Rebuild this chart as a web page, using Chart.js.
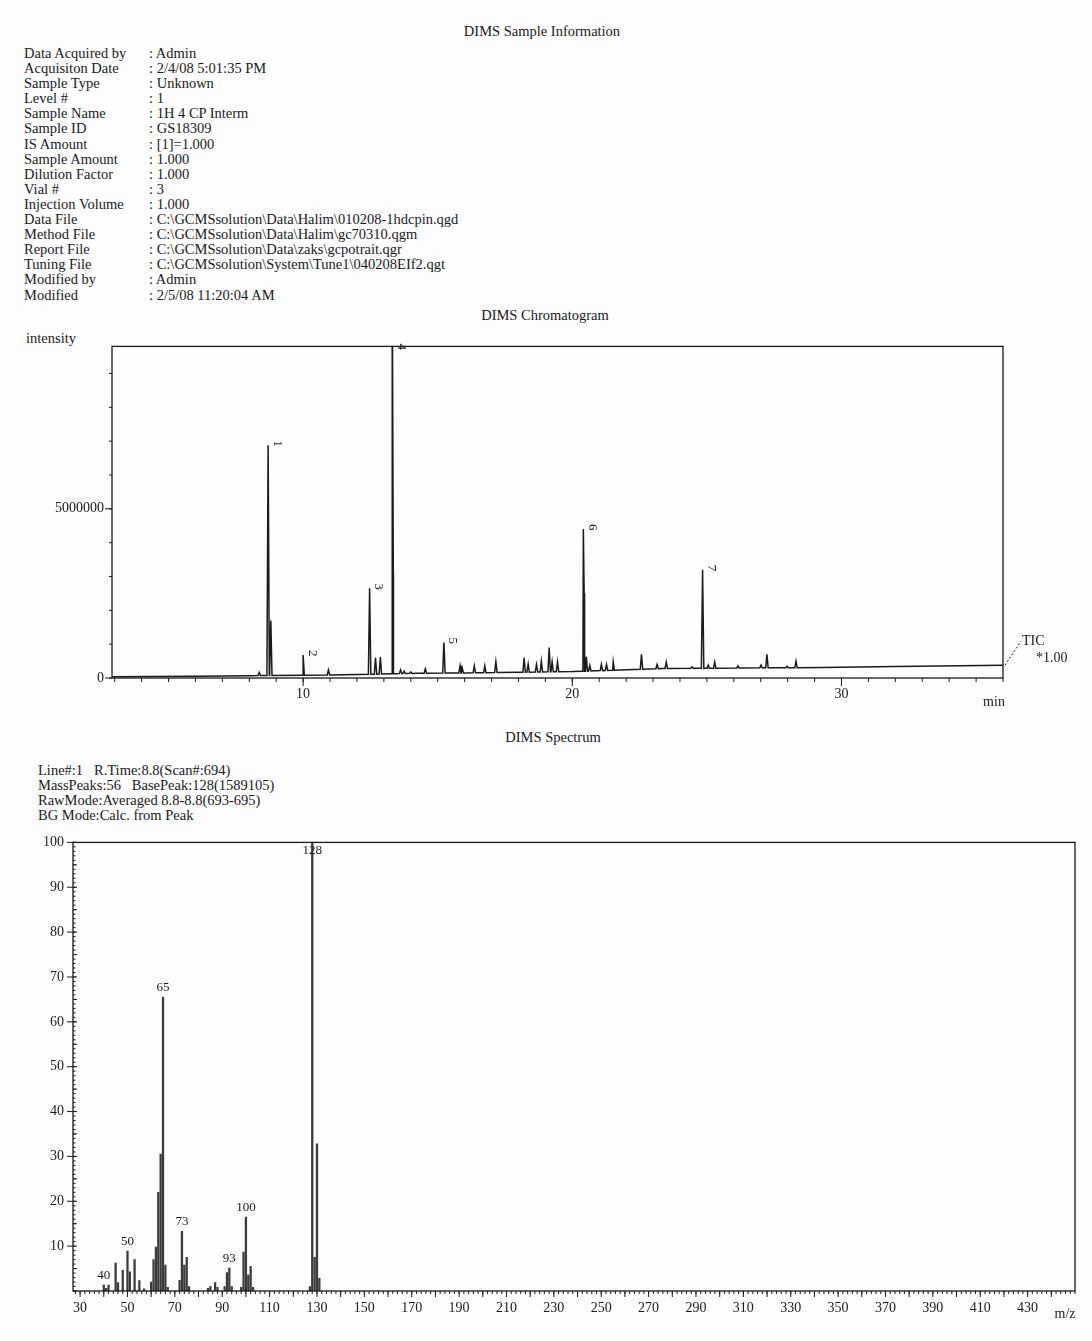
<!DOCTYPE html>
<html>
<head>
<meta charset="utf-8">
<script src="https://cdn.jsdelivr.net/npm/chart.js@4.4.0/dist/chart.umd.min.js"></script>
<style>
  body { margin: 0; background: #fff; }
  #page { position: relative; width: 1092px; height: 1341px; overflow: hidden; background: #fdfdfd;
          font-family: "Liberation Serif", "DejaVu Serif", serif; color: #1a1a1a; }
  .t { position: absolute; white-space: nowrap; font-size: 14.5px; line-height: 15px; }
  .title { position: absolute; font-size: 14.5px; transform: translateX(-50%); white-space: nowrap; }
  #info { position: absolute; left: 24px; top: 46px; }
  #info div { height: 15.1px; line-height: 15px; font-size: 14.5px; white-space: nowrap; }
  #info span.l { display: inline-block; width: 125px; }
  canvas { position: absolute; left: 0; }
</style>
</head>
<body>
<div id="page">
  <div class="title" style="left:542px; top:23px;">DIMS Sample Information</div>
  <div id="info"></div>

  <div class="title" style="left:545px; top:307px;">DIMS Chromatogram</div>
  <div class="t" style="left:26px; top:331px;">intensity</div>
  <canvas id="chrom" width="1092" height="390" style="top:330px;"></canvas>

  <div class="title" style="left:553px; top:729px;">DIMS Spectrum</div>
  <div class="t" style="left:38px; top:763px;">Line#:1&nbsp;&nbsp; R.Time:8.8(Scan#:694)</div>
  <div class="t" style="left:38px; top:778px;">MassPeaks:56&nbsp;&nbsp; BasePeak:128(1589105)</div>
  <div class="t" style="left:38px; top:793px;">RawMode:Averaged 8.8-8.8(693-695)</div>
  <div class="t" style="left:38px; top:808px;">BG Mode:Calc. from Peak</div>
  <canvas id="spec" width="1092" height="510" style="top:825px;"></canvas>
</div>

<script>
// header block
const infoLabels = ['Data Acquired by', 'Acquisiton Date', 'Sample Type', 'Level #', 'Sample Name', 'Sample ID',
  'IS Amount', 'Sample Amount', 'Dilution Factor', 'Vial #', 'Injection Volume', 'Data File', 'Method File',
  'Report File', 'Tuning File', 'Modified by', 'Modified'];
const infoValues = ['Admin', '2/4/08 5:01:35 PM', 'Unknown', '1', '1H 4 CP Interm', 'GS18309', '[1]=1.000',
  '1.000', '1.000', '3', '1.000', 'C:\\GCMSsolution\\Data\\Halim\\010208-1hdcpin.qgd',
  'C:\\GCMSsolution\\Data\\Halim\\gc70310.qgm', 'C:\\GCMSsolution\\Data\\zaks\\gcpotrait.qgr',
  'C:\\GCMSsolution\\System\\Tune1\\040208EIf2.qgt', 'Admin', '2/5/08 11:20:04 AM'];

// chromatogram (TIC) - retention time in min, intensity
const chromBaseTimes = [2.9, 6.0, 8.0, 10.0, 12.0, 14.2, 16.0, 18.0, 20.0, 21.5, 23.4, 25.0, 27.1, 29.3, 32.0, 36.0];
const chromBaseValues = [40000, 50000, 70000, 80000, 100000, 140000, 150000, 170000, 190000, 230000, 280000,
  290000, 300000, 310000, 340000, 380000];
const chromPeakTimes = [8.37, 8.70, 8.80, 10.00, 10.94, 12.47, 12.69, 12.87, 13.31, 13.35, 13.62, 13.75, 14.0,
  14.54, 15.23, 15.83, 15.91, 16.36, 16.75, 17.16, 18.21, 18.36, 18.67, 18.85, 19.14, 19.25, 19.45, 20.41,
  20.44, 20.52, 20.65, 21.08, 21.27, 21.52, 22.57, 23.15, 23.49, 24.45, 24.84, 25.05, 25.29, 26.15, 27.01,
  27.23, 27.98, 28.31];
const chromPeakHeights = [160000, 6880000, 1700000, 680000, 240000, 2650000, 600000, 620000, 12000000, 3100000,
  240000, 200000, 180000, 270000, 1050000, 360000, 300000, 360000, 360000, 480000, 600000, 410000, 400000,
  500000, 900000, 480000, 480000, 4400000, 2500000, 630000, 370000, 400000, 400000, 480000, 700000, 400000,
  470000, 330000, 3200000, 380000, 470000, 360000, 380000, 700000, 350000, 500000];
const chromPeakNames = ['', '1', '', '2', '', '3', '', '', '4', '', '', '', '', '', '5', '', '', '', '', '', '',
  '', '', '', '', '', '', '6', '', '', '', '', '', '', '', '', '', '', '7', '', '', '', '', '', '', ''];
const chromXTicks = [10, 20, 30];
const chromYTicks = [0, 5000000];

// mass spectrum - m/z, relative intensity %
const specMz = [40, 41, 42, 45, 46, 48, 50, 51, 53, 55, 57, 60, 61, 62, 63, 64, 65, 66, 67, 72, 73, 74, 75, 76,
  84, 85, 87, 88, 91, 92, 93, 94, 98, 99, 100, 101, 102, 103, 127, 128, 129, 130, 131];
const specInt = [1.3, 0.6, 1.3, 6.2, 1.9, 4.6, 8.9, 4.3, 7.0, 2.3, 0.5, 2.0, 7.0, 9.8, 22.0, 30.5, 65.5, 5.8, 0.8,
  2.4, 13.3, 5.8, 7.5, 1.0, 0.6, 1.0, 1.9, 0.8, 1.0, 4.1, 5.1, 1.0, 0.8, 8.7, 16.5, 3.6, 5.5, 0.8, 1.0, 100,
  7.5, 32.8, 2.8];
const specLabeled = [40, 50, 65, 73, 93, 100, 128];
const specXTicks = [30, 50, 70, 90, 110, 130, 150, 170, 190, 210, 230, 250, 270, 290, 310, 330, 350, 370, 390, 410, 430];
const specYTicks = [10, 20, 30, 40, 50, 60, 70, 80, 90, 100];

const ink = '#1a1a1a';
const serif = '"Liberation Serif", "DejaVu Serif", serif';

const info = document.getElementById('info');
infoLabels.forEach((l, i) => {
  const row = document.createElement('div');
  const a = document.createElement('span'); a.className = 'l'; a.textContent = l;
  const b = document.createElement('span'); b.textContent = ': ' + infoValues[i];
  row.appendChild(a); row.appendChild(b);
  info.appendChild(row);
});

function baseAt(t) {
  for (let i = 1; i < chromBaseTimes.length; i++) {
    if (t <= chromBaseTimes[i]) {
      const t0 = chromBaseTimes[i - 1], t1 = chromBaseTimes[i];
      const f = (t - t0) / (t1 - t0);
      return chromBaseValues[i - 1] + f * (chromBaseValues[i] - chromBaseValues[i - 1]);
    }
  }
  return chromBaseValues[chromBaseValues.length - 1];
}

// trace = baseline points + a narrow spike for each peak
const w = 0.045;
const trace = chromBaseTimes.map((t, i) => ({ x: t, y: chromBaseValues[i] }));
chromPeakTimes.forEach((t, i) => {
  const b = baseAt(t);
  trace.push({ x: t - w, y: b }, { x: t, y: chromPeakHeights[i] }, { x: t + w, y: b });
});
trace.sort((a, b) => a.x - b.x);

function drawTicks(ctx, scale, values, len, horizontal, area) {
  ctx.beginPath();
  values.forEach(v => {
    const p = scale.getPixelForValue(v);
    if (horizontal) { ctx.moveTo(p, area.bottom); ctx.lineTo(p, area.bottom + len); }
    else { ctx.moveTo(area.left, p); ctx.lineTo(area.left + len, p); }
  });
  ctx.stroke();
}

const range = (a, b, s) => { const r = []; for (let v = a; v <= b + 1e-9; v += s) r.push(v); return r; };

const chromDeco = {
  id: 'chromDeco',
  afterDraw(chart) {
    const { ctx, chartArea: a, scales: { x, y } } = chart;
    ctx.save();
    ctx.strokeStyle = ink; ctx.lineWidth = 1.3;
    ctx.strokeRect(a.left, a.top, a.right - a.left, a.bottom - a.top);
    ctx.lineWidth = 1;
    drawTicks(ctx, x, range(3, 36, 1), 4, true, a);
    drawTicks(ctx, x, chromXTicks, 8, true, a);
    drawTicks(ctx, y, range(0, 9000000, 1000000), -3, false, a);
    drawTicks(ctx, y, chromYTicks, -7, false, a);
    // peak numbers, rotated
    ctx.fillStyle = ink;
    ctx.font = '13px ' + serif;
    ctx.textAlign = 'left'; ctx.textBaseline = 'middle';
    chromPeakTimes.forEach((t, i) => {
      if (!chromPeakNames[i]) return;
      const px = x.getPixelForValue(t) + 9;
      const py = Math.max(y.getPixelForValue(chromPeakHeights[i]), a.top + 2) - 5;
      ctx.save(); ctx.translate(px, py); ctx.rotate(Math.PI / 2);
      ctx.fillText(chromPeakNames[i], 0, 0);
      ctx.restore();
    });
    // TIC tag
    const by = y.getPixelForValue(baseAt(36));
    ctx.setLineDash([2, 2]);
    ctx.beginPath(); ctx.moveTo(a.right + 2, by); ctx.lineTo(a.right + 18, by - 24); ctx.stroke();
    ctx.setLineDash([]);
    ctx.font = '14px ' + serif;
    ctx.fillText('TIC', a.right + 19, by - 24);
    ctx.fillText('*1.00', a.right + 33, by - 7);
    ctx.textAlign = 'center';
    ctx.fillText('min', a.right - 9, a.bottom + 24);
    ctx.restore();
  }
};

new Chart(document.getElementById('chrom'), {
  type: 'line',
  data: {
    datasets: [{
      data: trace,
      borderColor: ink,
      borderWidth: 1.5,
      pointRadius: 0,
      tension: 0
    }]
  },
  options: {
    responsive: false,
    animation: false,
    layout: { padding: { left: 42, top: 15, right: 89, bottom: 12 } },
    plugins: { legend: { display: false }, tooltip: { enabled: false } },
    scales: {
      x: {
        type: 'linear', min: 2.9, max: 36,
        afterBuildTicks: s => { s.ticks = chromXTicks.map(v => ({ value: v })); },
        afterFit: s => { s.height = 30; },
        grid: { display: false, drawTicks: false },
        border: { display: false },
        ticks: { color: ink, font: { family: serif, size: 14 }, padding: 8, maxRotation: 0, autoSkip: false }
      },
      y: {
        min: 0, max: 9800000,
        afterBuildTicks: s => { s.ticks = chromYTicks.map(v => ({ value: v })); },
        afterFit: s => { s.width = 70; },
        grid: { display: false, drawTicks: false },
        border: { display: false },
        ticks: { color: ink, font: { family: serif, size: 14 }, padding: 8, callback: v => String(v) }
      }
    }
  },
  plugins: [chromDeco]
});

const specDeco = {
  id: 'specDeco',
  afterDraw(chart) {
    const { ctx, chartArea: a, scales: { x, y } } = chart;
    ctx.save();
    ctx.strokeStyle = ink; ctx.lineWidth = 1.3;
    ctx.strokeRect(a.left, a.top, a.right - a.left, a.bottom - a.top);
    ctx.lineWidth = 1;
    drawTicks(ctx, x, range(28, 450, 2), 3, true, a);
    drawTicks(ctx, x, range(30, 440, 10), 6, true, a);
    drawTicks(ctx, y, range(0, 100, 1), 2.5, false, a);
    drawTicks(ctx, y, range(0, 100, 5), 4, false, a);
    drawTicks(ctx, y, specYTicks, -6, false, a);
    ctx.fillStyle = ink;
    ctx.font = '13px ' + serif;
    ctx.textAlign = 'center'; ctx.textBaseline = 'bottom';
    specLabeled.forEach(m => {
      const h = specInt[specMz.indexOf(m)];
      const px = x.getPixelForValue(m);
      const py = Math.max(y.getPixelForValue(h) - 3, a.top + 15);
      ctx.fillText(String(m), px, py);
    });
    ctx.font = '14px ' + serif;
    ctx.fillText('m/z', a.right - 10, a.bottom + 30);
    ctx.restore();
  }
};

new Chart(document.getElementById('spec'), {
  type: 'bar',
  data: {
    datasets: [{
      data: specMz.map((m, i) => ({ x: m, y: specInt[i] })),
      backgroundColor: '#3a3a3a',
      barThickness: 1.6
    }]
  },
  options: {
    responsive: false,
    animation: false,
    layout: { padding: { left: 33, top: 9, right: 17, bottom: 16 } },
    plugins: { legend: { display: false }, tooltip: { enabled: false } },
    scales: {
      x: {
        type: 'linear', min: 27, max: 450, offset: false,
        afterBuildTicks: s => { s.ticks = specXTicks.map(v => ({ value: v })); },
        afterFit: s => { s.height = 28; },
        grid: { display: false, drawTicks: false, offset: false },
        border: { display: false },
        ticks: { color: ink, font: { family: serif, size: 14 }, padding: 9, maxRotation: 0, autoSkip: false }
      },
      y: {
        min: 0, max: 100,
        afterBuildTicks: s => { s.ticks = specYTicks.map(v => ({ value: v })); },
        afterFit: s => { s.width = 40; },
        grid: { display: false, drawTicks: false },
        border: { display: false },
        ticks: { color: ink, font: { family: serif, size: 14 }, padding: 9 }
      }
    }
  },
  plugins: [specDeco]
});
</script>
</body>
</html>
